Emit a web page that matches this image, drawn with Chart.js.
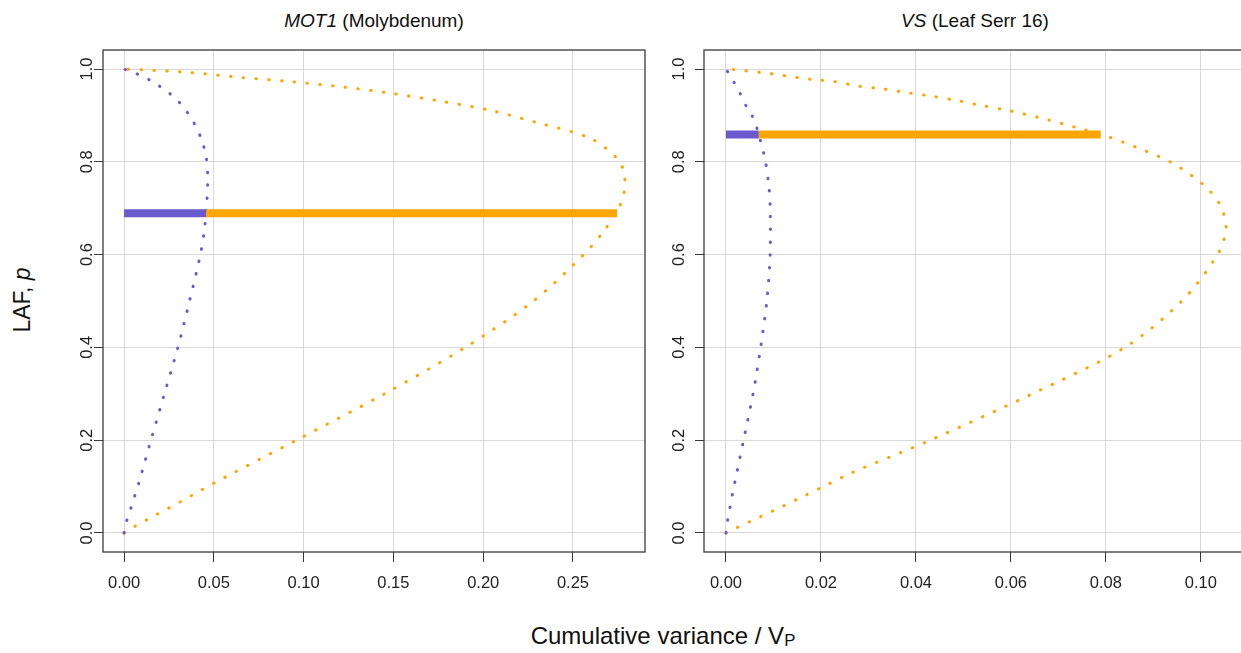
<!DOCTYPE html>
<html>
<head>
<meta charset="utf-8">
<script src="https://cdn.jsdelivr.net/npm/chart.js@4.4.1/dist/chart.umd.min.js"></script>
<style>
  html, body { margin: 0; padding: 0; background: #fff; }
  body {
    width: 1241px; height: 653px; overflow: hidden; position: relative;
    font-family: "Liberation Sans", Arial, sans-serif; color: #111;
  }
  canvas { position: absolute; top: 0; }
  #motCanvas { left: 0; }
  #vsCanvas { left: 640px; }
  .title { position: absolute; top: 11px; font-size: 19px; line-height: 1; white-space: nowrap; transform: translateX(-50%); }
  .ylab { position: absolute; left: 22px; top: 300px; font-size: 23px; line-height: 1; white-space: nowrap; transform: translate(-50%, -50%) rotate(-90deg); }
  .xlab { position: absolute; left: 663px; top: 637px; font-size: 24px; line-height: 1; white-space: nowrap; transform: translate(-50%, -50%); }
  .xlab sub { font-size: 0.7em; vertical-align: -0.12em; }
</style>
</head>
<body>
<div class="title" style="left:374px"><i>MOT1</i> (Molybdenum)</div>
<div class="title" style="left:975px"><i>VS</i> (Leaf Serr 16)</div>
<div class="ylab">LAF, <i>p</i></div>
<div class="xlab">Cumulative variance / V<sub>P</sub></div>
<canvas id="motCanvas" width="680" height="653"></canvas>
<canvas id="vsCanvas" width="660" height="653"></canvas>
<script>
// tick labels
const lafTicks = [0, 0.2, 0.4, 0.6, 0.8, 1.0]
const motVarTicks = [0, 0.05, 0.10, 0.15, 0.20, 0.25]
const vsVarTicks = [0, 0.02, 0.04, 0.06, 0.08, 0.10]

// MOT1 (Molybdenum): curves as (LAF, cumulative variance)
const motBlueLaf = [0, 0.0286, 0.0565, 0.0843, 0.111, 0.2, 0.3, 0.4, 0.5, 0.6, 0.651, 0.706, 0.76, 0.81, 0.85, 0.885, 0.908, 0.930, 0.948, 0.964, 0.978, 0.990, 1.0]
const motBlueVar = [0, 0.0017, 0.0041, 0.0063, 0.0085, 0.0150, 0.0225, 0.0300, 0.0365, 0.0425, 0.0447, 0.0460, 0.0466, 0.0458, 0.0430, 0.0388, 0.0350, 0.0304, 0.0252, 0.0194, 0.0135, 0.0069, 0]
const motOrangeLaf = [0, 0.014, 0.040, 0.066, 0.093, 0.119, 0.2, 0.3, 0.4, 0.5, 0.6, 0.65, 0.7, 0.75, 0.8, 0.85, 0.885, 0.911, 0.931, 0.948, 0.962, 0.973, 0.982, 0.9925, 0.9985, 1.0]
const motOrangeVar = [0, 0.0059, 0.0183, 0.0308, 0.0433, 0.0557, 0.096, 0.145, 0.190, 0.228, 0.256, 0.267, 0.2755, 0.279, 0.276, 0.260, 0.2296, 0.2038, 0.1759, 0.1481, 0.1203, 0.0924, 0.0646, 0.0367, 0.0089, 0]
const motBar = [0.689, 0.0457, 0.2745]   // LAF, blue end, orange end

// VS (Leaf Serr 16)
const vsBlueLaf = [0, 0.0306, 0.061, 0.0917, 0.121, 0.2, 0.3, 0.4, 0.5, 0.6, 0.7, 0.75, 0.802, 0.828, 0.859, 0.879, 0.904, 0.919, 0.947, 0.973, 1.0]
const vsBlueVar = [0, 0.0004, 0.00095, 0.0015, 0.0021, 0.0037, 0.0057, 0.0073, 0.0086, 0.0093, 0.0093, 0.0090, 0.0083, 0.0077, 0.0069, 0.0063, 0.00526, 0.0043, 0.0030, 0.0016, 0]
const vsOrangeLaf = [0, 0.0116, 0.0347, 0.0578, 0.0817, 0.106, 0.130, 0.2, 0.3, 0.4, 0.5, 0.6, 0.656, 0.708, 0.749, 0.796, 0.829, 0.857, 0.872, 0.893, 0.9115, 0.921, 0.9315, 0.941, 0.9486, 0.957, 0.963, 0.973, 0.978, 0.9857, 0.993, 0.9986, 1.0]
const vsOrangeVar = [0, 0.0023, 0.0072, 0.0120, 0.0168, 0.0217, 0.0265, 0.043, 0.0645, 0.084, 0.096, 0.1035, 0.1053, 0.1040, 0.1007, 0.0942, 0.0870, 0.0796, 0.0745, 0.0668, 0.0591, 0.0540, 0.0489, 0.0436, 0.0384, 0.0332, 0.0280, 0.0228, 0.0176, 0.0123, 0.0071, 0.0017, 0]
const vsBar = [0.859, 0.0069, 0.0789]

const BLUE = "#6a5acd"
const ORANGE = "#ffa500"
const FONT = "'Liberation Sans', Arial, sans-serif"

const toPoints = (lafs, vars) => lafs.map((p, i) => ({ x: vars[i], y: p }))

// R's box() around the plot region, plus the y tick labels turned like R's las=0
const framePlugin = {
  id: "frame",
  afterDraw(chart, args, opts) {
    const { ctx, chartArea: a } = chart
    ctx.save()
    ctx.strokeStyle = "#3a3a3a"
    ctx.lineWidth = 1.3
    ctx.strokeRect(a.left, a.top, a.right - a.left, a.bottom - a.top)

    const yScale = chart.scales.y
    ctx.fillStyle = "#222"
    ctx.font = `16.5px ${FONT}`
    ctx.textAlign = "center"
    ctx.textBaseline = "middle"
    yScale.ticks.forEach((t) => {
      ctx.save()
      ctx.translate(a.left - opts.labelGap, yScale.getPixelForValue(t.value))
      ctx.rotate(-Math.PI / 2)
      ctx.fillText(t.value.toFixed(1), 0, 0)
      ctx.restore()
    })
    ctx.restore()
  }
}

function curve(points, color) {
  return {
    data: points, showLine: true, borderColor: color, borderWidth: 3,
    borderDash: [0.5, 12.3], borderCapStyle: "round", pointRadius: 0,
    tension: 0.3, order: 1
  }
}

function bar(laf, from, to, color) {
  return {
    data: [{ x: from, y: laf }, { x: to, y: laf }], showLine: true,
    borderColor: color, borderWidth: 8, borderCapStyle: "butt",
    pointRadius: 0, order: 0
  }
}

function buildPanel(canvas, p) {
  return new Chart(canvas, {
    type: "scatter",
    data: {
      datasets: [
        bar(p.bar[0], 0, p.bar[1], BLUE),
        bar(p.bar[0], p.bar[1], p.bar[2], ORANGE),
        curve(toPoints(p.blueLaf, p.blueVar), BLUE),
        curve(toPoints(p.orangeLaf, p.orangeVar), ORANGE)
      ]
    },
    options: {
      responsive: false,
      animation: false,
      events: [],
      layout: { padding: { top: 50, right: p.padRight, left: 0, bottom: 0 } },
      plugins: {
        legend: { display: false },
        tooltip: { enabled: false },
        frame: { labelGap: p.labelGap }
      },
      scales: {
        x: {
          type: "linear", min: p.xMin, max: p.xMax,
          afterBuildTicks: (s) => { s.ticks = p.xTicks.map((v) => ({ value: v })) },
          afterFit: (s) => { s.height = 101 },
          border: { display: false },
          grid: { color: "#d9d9d9", lineWidth: 1, tickColor: "#3a3a3a", tickLength: 10 },
          ticks: {
            autoSkip: false, maxRotation: 0, padding: 12, color: "#222",
            font: { family: FONT, size: 16.5 },
            callback: (v) => v.toFixed(2)
          }
        },
        y: {
          type: "linear", min: -0.041, max: 1.041,
          afterBuildTicks: (s) => { s.ticks = lafTicks.map((v) => ({ value: v })) },
          afterFit: (s) => { s.width = p.yWidth },
          border: { display: false },
          grid: { color: "#d9d9d9", lineWidth: 1, tickColor: "#3a3a3a", tickLength: 9 },
          ticks: { display: false }
        }
      }
    },
    plugins: [framePlugin]
  })
}

buildPanel(document.getElementById("motCanvas"), {
  blueLaf: motBlueLaf, blueVar: motBlueVar,
  orangeLaf: motOrangeLaf, orangeVar: motOrangeVar,
  bar: motBar, xTicks: motVarTicks,
  xMin: -0.0117, xMax: 0.2901, yWidth: 103, padRight: 35, labelGap: 16
})

buildPanel(document.getElementById("vsCanvas"), {
  blueLaf: vsBlueLaf, blueVar: vsBlueVar,
  orangeLaf: vsOrangeLaf, orangeVar: vsOrangeVar,
  bar: vsBar, xTicks: vsVarTicks,
  xMin: -0.00463, xMax: 0.1095, yWidth: 64, padRight: 54, labelGap: 25
})
</script>
</body>
</html>
